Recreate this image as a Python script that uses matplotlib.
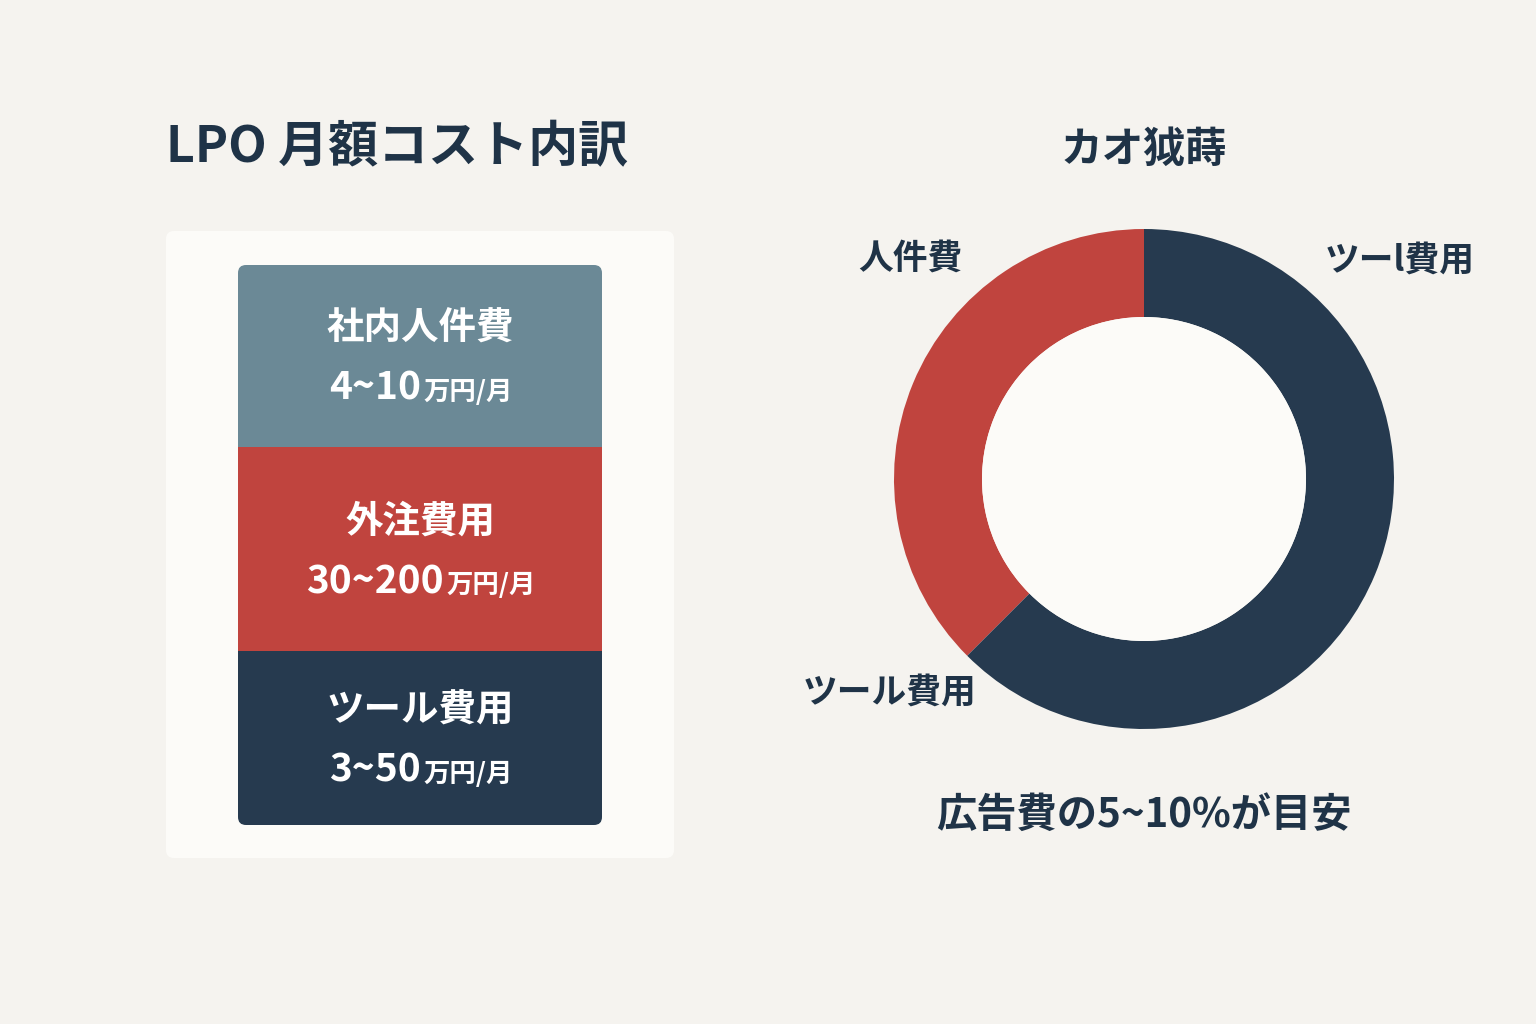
import matplotlib
matplotlib.use("Agg")
import matplotlib.pyplot as plt
from matplotlib.patches import FancyBboxPatch, Rectangle

plt.rcParams['font.family'] = ['Noto Sans CJK JP', 'DejaVu Sans']

block_names = ["社内人件費", "外注費用", "ツール費用"]
block_ranges = ["4~10", "30~200", "3~50"]
block_colors = ["#6b8996", "#c0443e", "#263a4f"]
donut_labels = ["人件費", "ツーl費用"]
donut_shares = [37.5, 62.5]
donut_colors = ["#c0443e", "#263a4f"]
total_text = "37~260"

BG = "#f5f3ef"
INK = "#1f3347"
fig = plt.figure(figsize=(15.36, 10.24), dpi=100, facecolor=BG)
ax = fig.add_axes([0, 0, 1, 1])
ax.set_xlim(0, 1536); ax.set_ylim(1024, 0); ax.axis('off')

ax.text(166, 148, "LPO 月額コスト内訳", fontsize=36, fontweight='bold', color=INK, va='center', ha='left')
ax.add_patch(FancyBboxPatch((172, 237), 496, 615, boxstyle="round,pad=6,rounding_size=8",
                            fc="#fcfbf8", ec="none"))
# stacked blocks
tops = [265, 447, 651]
bottoms = [447, 651, 825]
for i, (n, r, c) in enumerate(zip(block_names, block_ranges, block_colors)):
    y0, y1 = tops[i], bottoms[i]
    if i == 0:
        ax.add_patch(FancyBboxPatch((238, y0), 364, y1 - y0, boxstyle="round,pad=0,rounding_size=8", fc=c, ec='none'))
        ax.add_patch(Rectangle((238, y0 + 20), 364, y1 - y0 - 20, fc=c, ec='none'))
    elif i == 2:
        ax.add_patch(FancyBboxPatch((238, y0), 364, y1 - y0, boxstyle="round,pad=0,rounding_size=8", fc=c, ec='none'))
        ax.add_patch(Rectangle((238, y0), 364, y1 - y0 - 20, fc=c, ec='none'))
    else:
        ax.add_patch(Rectangle((238, y0), 364, y1 - y0, fc=c, ec='none'))
    ym = (y0 + y1) / 2
    ax.text(420, ym - 28, n, fontsize=27, fontweight='bold', color='white', ha='center', va='center')
    ax.text(420, ym + 32, r + "$\\,$", fontsize=1, color=c)
    t = ax.annotate(r, (420, ym + 32), fontsize=30, fontweight='bold', color='white', ha='right', va='center')
    ax.text(420, ym + 34, "", fontsize=1)
# adjust range text: draw as combined
for t in list(ax.texts):
    if t.get_fontsize() == 1:
        t.remove()
for t in list(ax.texts):
    pass

ax.text(1144, 150, "カオ狘蒔", fontsize=30, fontweight='bold', color=INK, ha='center', va='center')

# donut
dax = fig.add_axes([(1144 - 250) / 1536, 1 - (479 + 250) / 1024, 500 / 1536, 500 / 1024])
dax.pie(donut_shares, colors=donut_colors, startangle=90, counterclock=True,
        wedgeprops=dict(width=88 / 250, edgecolor='none'), radius=1)
dax.set_aspect('equal'); dax.set_xlim(-1, 1); dax.set_ylim(-1, 1)
dax.add_patch(plt.Circle((0, 0), 162 / 250, fc="#fcfbf8", ec='none'))

ax.text(910, 258, donut_labels[0], fontsize=25, fontweight='bold', color=INK, ha='center', va='center')
ax.text(1400, 260, donut_labels[1], fontsize=25, fontweight='bold', color=INK, ha='center', va='center')
ax.text(890, 692, "ツール費用", fontsize=25, fontweight='bold', color=INK, ha='center', va='center')
ax.text(1144, 433, "月額合計", fontsize=32, fontweight='bold', color=INK, ha='center', va='center')
ax.text(1144, 815, "広告費の5~10%が目安", fontsize=29, fontweight='bold', color=INK, ha='center', va='center')

fig.canvas.draw()
r = fig.canvas.get_renderer()
inv = ax.transData.inverted()
def pair(x, y, big, small, bs, ss, color):
    t1 = ax.text(0, y, big, fontsize=bs, fontweight='bold', color=color, va='baseline', ha='left')
    t2 = ax.text(0, y, small, fontsize=ss, fontweight='bold', color=color, va='baseline', ha='left')
    w1 = t1.get_window_extent(r).width; w2 = t2.get_window_extent(r).width
    x0 = x - (w1 + w2) / 2
    t1.set_x(x0); t2.set_x(x0 + w1 + 2)
for t in list(ax.texts):
    if t.get_text() in block_ranges and t.get_ha() == 'right':
        x, y = t.get_position(); s = t.get_text(); t.remove()
        pair(x, y + 12, s, "万円/月", 28, 19, 'white')
pair(1148, 525, total_text, "万円", 44, 24, INK)

fig.savefig("out.png", dpi=100, facecolor=BG)
